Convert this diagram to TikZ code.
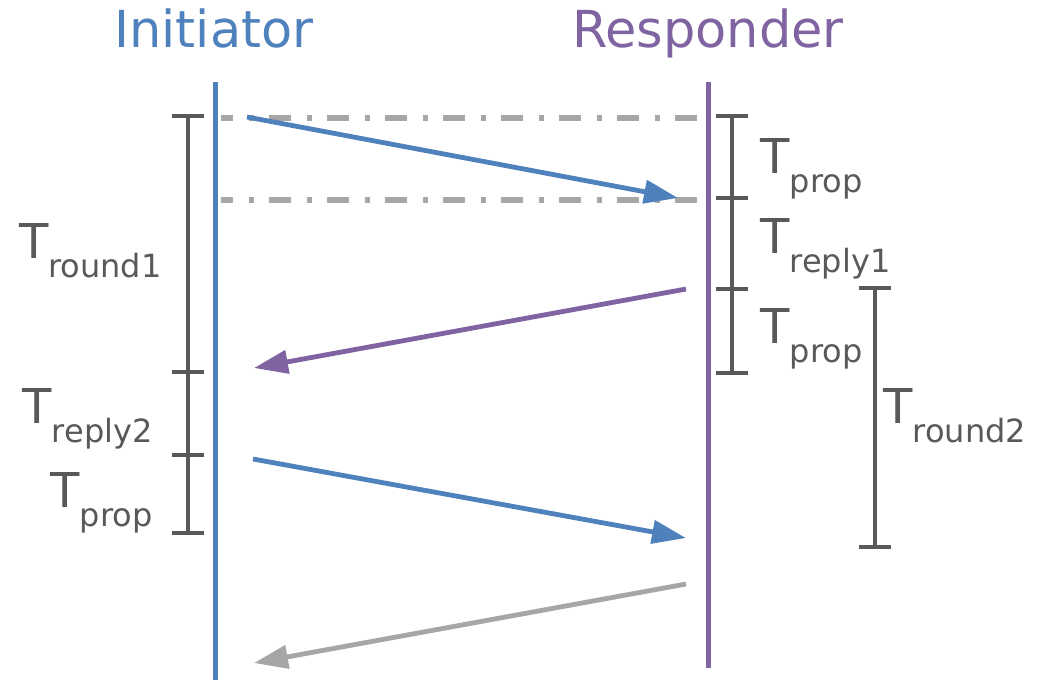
\documentclass[tikz,border=0pt]{standalone}
\usepackage{fontspec}
\setmainfont{DejaVu Sans}
\usetikzlibrary{arrows.meta}
\definecolor{initblue}{RGB}{79, 129, 189}
\definecolor{resppurple}{RGB}{128, 100, 162}
\definecolor{guidegray}{RGB}{166, 166, 166}
\definecolor{spangray}{RGB}{89, 89, 89}
% T with a lowered, smaller index
\newcommand{\Tsub}[1]{T\raisebox{-9.5pt}{\fontsize{16}{16}\selectfont #1}}
% short horizontal tick on a span
\newcommand{\spantick}[1]{\draw[span] (#1) ++(-16, 0) -- ++(32, 0);}

\begin{document}
\begin{tikzpicture}[x=0.5pt, y=-0.5pt,
  lifeline/.style={line width=2.5pt},
  msg/.style={line width=2.4pt, -{Triangle[length=17pt, width=11.5pt]}},
  guide/.style={guidegray, line width=2.6pt, dash pattern=on 11pt off 8pt on 2.5pt off 7.5pt, dash phase=5pt},
  span/.style={spangray, line width=2.3pt},
  tlab/.style={inner sep=0pt, text=spangray, font=\fontsize{24}{24}\selectfont},
  title/.style={inner sep=0pt, anchor=base, font=\fontsize{25.5}{25.5}\selectfont}]
  \useasboundingbox (0, 0) rectangle (1050, 680);

  % Titles
  \node[title, text=initblue] (init) at (214, 47) {Initiator};
  \node[title, text=resppurple] (resp) at (708, 47) {Responder};

  % Lifelines
  \coordinate (inittop) at (215, 82);
  \coordinate (initbot) at (215, 680);
  \coordinate (resptop) at (708, 82);
  \coordinate (respbot) at (708, 668);
  \draw[lifeline, initblue] (inittop) -- (initbot);
  \draw[lifeline, resppurple] (resptop) -- (respbot);

  % Guide lines for the first propagation
  \coordinate (g1a) at (221, 118);
  \coordinate (g1b) at (705, 118);
  \coordinate (g2a) at (221, 200);
  \coordinate (g2b) at (705, 200);
  \draw[guide] (g1a) -- (g1b);
  \draw[guide] (g2a) -- (g2b);

  % Messages
  \coordinate (m1s) at (247, 117);
  \coordinate (m1e) at (678, 198);
  \coordinate (m2s) at (686, 289);
  \coordinate (m2e) at (254, 368);
  \coordinate (m3s) at (253, 459);
  \coordinate (m3e) at (686, 538);
  \coordinate (m4s) at (686, 584);
  \coordinate (m4e) at (254, 663);
  \draw[msg, initblue] (m1s) -- (m1e);
  \draw[msg, resppurple] (m2s) -- (m2e);
  \draw[msg, initblue] (m3s) -- (m3e);
  \draw[msg, guidegray] (m4s) -- (m4e);

  % Initiator side spans
  \coordinate (l0) at (188, 116);
  \coordinate (l1) at (188, 372);
  \coordinate (l2) at (188, 455);
  \coordinate (l3) at (188, 533);
  \draw[span] (l0) -- (l3);
  \foreach \t in {l0, l1, l2, l3} {\spantick{\t}}
  \node[tlab, anchor=base east] (tround1) at (162, 258) {\Tsub{round1}};
  \node[tlab, anchor=base east] (treply2) at (153, 423) {\Tsub{reply2}};
  \node[tlab, anchor=base east] (tpropl) at (153, 507) {\Tsub{prop}};

  % Responder side spans
  \coordinate (r0) at (732, 116);
  \coordinate (r1) at (732, 198);
  \coordinate (r2) at (732, 289);
  \coordinate (r3) at (732, 373);
  \draw[span] (r0) -- (r3);
  \foreach \t in {r0, r1, r2, r3} {\spantick{\t}}
  \node[tlab, anchor=base west] (tprop1) at (760, 173) {\Tsub{prop}};
  \node[tlab, anchor=base west] (treply1) at (760, 253) {\Tsub{reply1}};
  \node[tlab, anchor=base west] (tprop2) at (760, 343) {\Tsub{prop}};

  % Second round trip
  \coordinate (q0) at (875, 288);
  \coordinate (q1) at (875, 547);
  \draw[span] (q0) -- (q1);
  \spantick{q0}
  \spantick{q1}
  \node[tlab, anchor=base west] (tround2) at (883, 423) {\Tsub{round2}};
\end{tikzpicture}
\end{document}
